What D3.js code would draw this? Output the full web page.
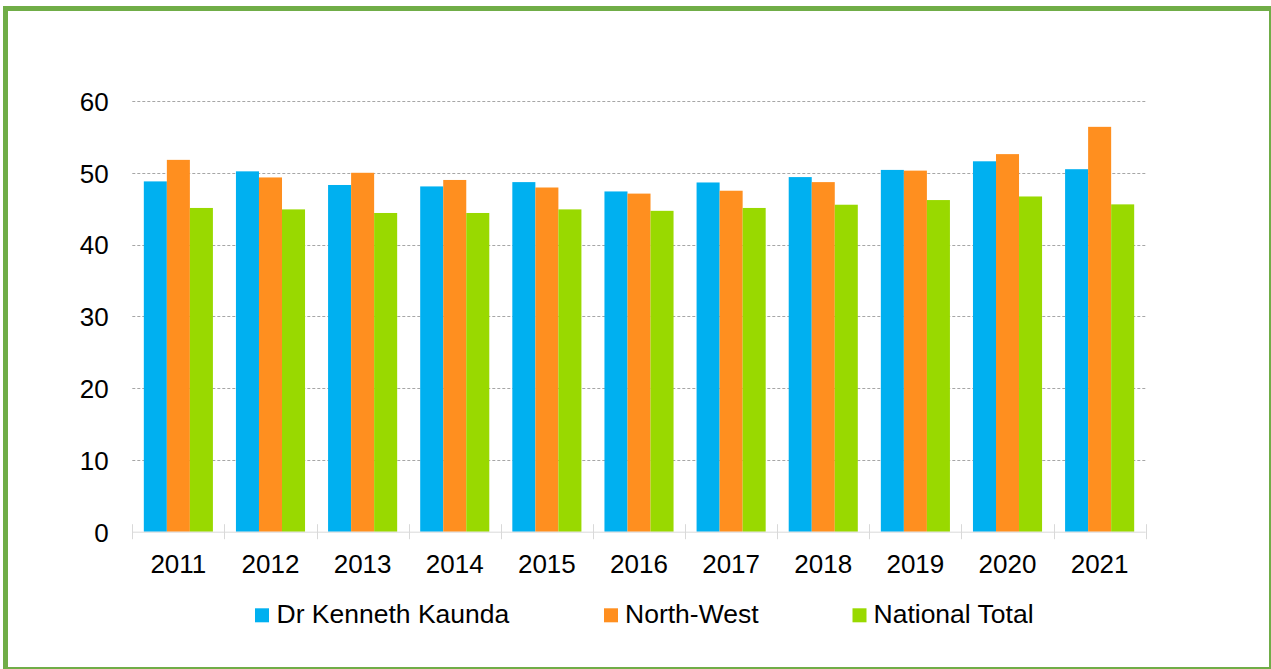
<!DOCTYPE html>
<html>
<head>
<meta charset="utf-8">
<script src="https://cdn.jsdelivr.net/npm/d3@7"></script>
<style>
  html, body { margin: 0; padding: 0; background: #fff; }
  svg { display: block; }
  text { font-family: Arial, "Liberation Sans", sans-serif; fill: #000; }
</style>
</head>
<body>
<svg id="chart" width="1271" height="669"></svg>
<script>
const categories = ["2011","2012","2013","2014","2015","2016","2017","2018","2019","2020","2021"];
const seriesNames = ["Dr Kenneth Kaunda", "North-West", "National Total"];
const kennethKaunda = [48.8, 50.2, 48.3, 48.1, 48.7, 47.4, 48.65, 49.4, 50.4, 51.6, 50.5];
const northWest     = [51.8, 49.35, 50.0, 49.0, 47.95, 47.1, 47.5, 48.7, 50.3, 52.6, 56.4];
const nationalTotal = [45.1, 44.9, 44.4, 44.4, 44.9, 44.7, 45.1, 45.55, 46.2, 46.7, 45.6];
const yTicks = [0, 10, 20, 30, 40, 50, 60];
const colors = ["#00B0F0", "#FF8F1F", "#99D900"];

const seriesValues = [kennethKaunda, northWest, nationalTotal];
const svg = d3.select("#chart");

// outer frame
svg.append("rect")
  .attr("x", 5.5).attr("y", 8.5)
  .attr("width", 1266).attr("height", 661)
  .attr("fill", "none")
  .attr("stroke", "#70AD47")
  .attr("stroke-width", 5);

const plotLeft = 132.3, plotRight = 1145.7, plotTop = 101, plotBottom = 531.7;

const x0 = d3.scaleBand().domain(categories).range([plotLeft, plotRight])
  .paddingInner(0.25).paddingOuter(0.125);
const x1 = d3.scaleBand().domain(seriesNames).range([0, x0.bandwidth()]);
const y = d3.scaleLinear().domain([0, 60]).range([plotBottom, plotTop]);

// gridlines
svg.append("g").selectAll("line")
  .data(yTicks.filter(d => d > 0))
  .join("line")
  .attr("x1", plotLeft).attr("x2", plotRight)
  .attr("y1", d => Math.round(y(d)) + 0.5).attr("y2", d => Math.round(y(d)) + 0.5)
  .attr("stroke", "#a6a6a6")
  .attr("stroke-width", 1)
  .attr("stroke-dasharray", "3,2");

// y axis labels
const yAxis = d3.axisLeft(y).tickValues(yTicks).tickSize(0).tickPadding(0);
const gy = svg.append("g").attr("transform", `translate(${108.7},0)`).call(yAxis);
gy.select(".domain").remove();
gy.selectAll("text")
  .attr("font-size", "26px")
  .attr("font-family", "Arial, 'Liberation Sans', sans-serif")
  .attr("fill", "#000")
  .attr("dy", "0.36em");

// bars
const groups = svg.append("g").selectAll("g")
  .data(categories)
  .join("g")
  .attr("transform", d => `translate(${x0(d)},0)`);
groups.selectAll("rect")
  .data((d, i) => seriesNames.map((s, j) => ({ s, j, v: seriesValues[j][i] })))
  .join("rect")
  .attr("x", d => x1(d.s))
  .attr("width", x1.bandwidth())
  .attr("y", d => y(d.v))
  .attr("height", d => y(0) - y(d.v))
  .attr("fill", d => colors[d.j]);

// x axis
const boundaries = categories.map(c => x0(c) - x0.step() * 0.125).concat([plotRight]);
const gx = svg.append("g");
gx.append("line")
  .attr("x1", plotLeft).attr("x2", plotRight)
  .attr("y1", plotBottom + 0.5).attr("y2", plotBottom + 0.5)
  .attr("stroke", "#d9d9d9").attr("stroke-width", 1);
gx.selectAll("line.tick")
  .data(boundaries)
  .join("line")
  .attr("class", "tick")
  .attr("x1", d => Math.round(d) + 0.5).attr("x2", d => Math.round(d) + 0.5)
  .attr("y1", plotBottom - 7.5).attr("y2", plotBottom + 7.5)
  .attr("stroke", "#d9d9d9").attr("stroke-width", 1);
gx.selectAll("text")
  .data(categories)
  .join("text")
  .attr("x", d => x0(d) + x0.bandwidth() / 2)
  .attr("y", 572.7)
  .attr("text-anchor", "middle")
  .attr("font-size", "26px")
  .text(d => d);

// legend
const legendItems = [
  { name: seriesNames[0], sx: 255, tx: 276.5 },
  { name: seriesNames[1], sx: 604, tx: 625 },
  { name: seriesNames[2], sx: 852.5, tx: 873.5 }
];
const lg = svg.append("g");
lg.selectAll("rect")
  .data(legendItems)
  .join("rect")
  .attr("x", d => d.sx).attr("y", 608.3)
  .attr("width", 14).attr("height", 14)
  .attr("fill", (d, i) => colors[i]);
lg.selectAll("text")
  .data(legendItems)
  .join("text")
  .attr("x", d => d.tx).attr("y", 623.3)
  .attr("font-size", "26.5px")
  .text(d => d.name);
</script>
</body>
</html>
